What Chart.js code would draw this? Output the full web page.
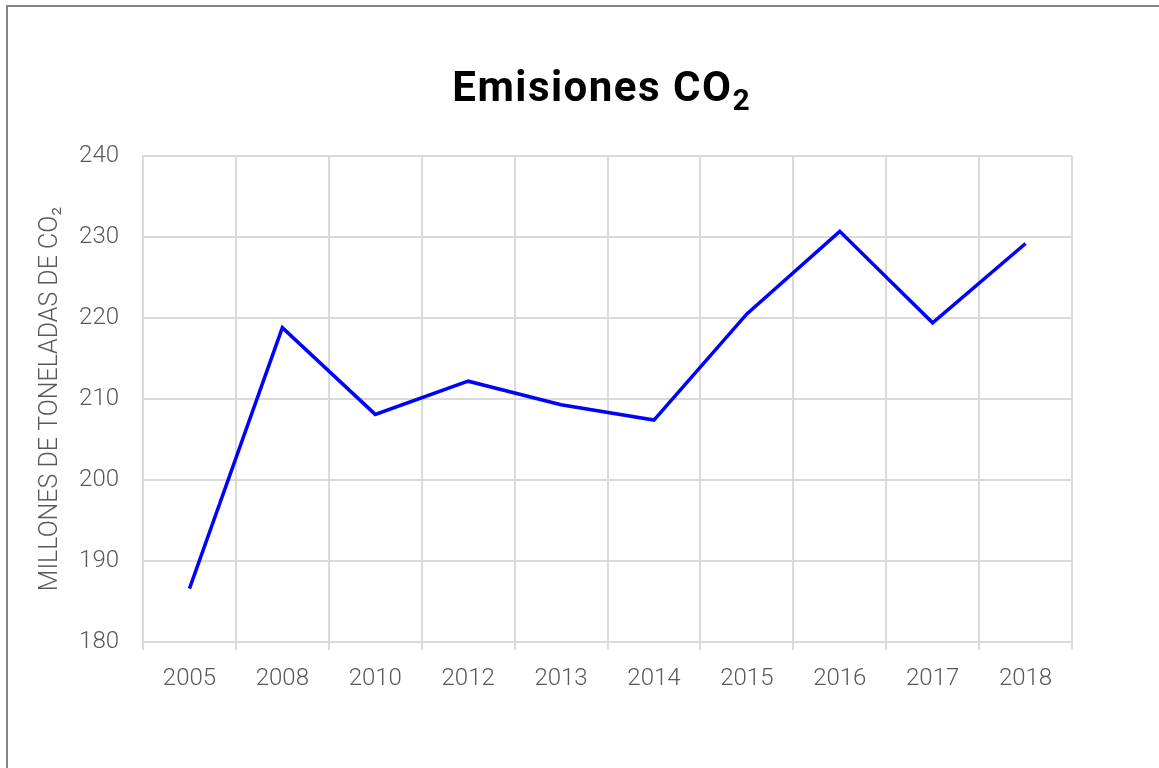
<!DOCTYPE html>
<html>
<head>
<meta charset="utf-8">
<script src="https://cdn.jsdelivr.net/npm/chart.js@4/dist/chart.umd.min.js"></script>
<style>
  body { margin: 0; background: #fff; overflow: hidden; }
  #wrap { position: relative; width: 1159px; height: 768px; }
  #frame {
    position: absolute; left: 6px; top: 5px; width: 1300px; height: 900px;
    border: 2px solid #858585; pointer-events: none;
  }
  #title {
    position: absolute; left: 0; width: 1202px; top: 66px; text-align: center;
    font-family: Roboto, "Noto Sans", sans-serif; font-weight: bold;
    font-size: 42px; letter-spacing: 1.5px; color: #000; line-height: 1;
  }
  #title sub { font-size: 30px; vertical-align: -9px; line-height: 0; letter-spacing: 0; }
</style>
</head>
<body>
<div id="wrap">
  <canvas id="chart" width="1159" height="768"></canvas>
  <div id="title">Emisiones CO<sub>2</sub></div>
  <div id="frame"></div>
</div>
<script>
const years = ["2005", "2008", "2010", "2012", "2013", "2014", "2015", "2016", "2017", "2018"];
const emissions = [186.6, 218.8, 208.1, 212.2, 209.3, 207.4, 220.5, 230.7, 219.4, 229.2];
const yMin = 180, yMax = 240, yStep = 10;

const tickFont = { family: "Roboto, 'Noto Sans', sans-serif", size: 24, weight: 300 };
const gridColor = "#dadada";

new Chart(document.getElementById("chart").getContext("2d"), {
  type: "line",
  data: {
    labels: years,
    datasets: [{
      data: emissions,
      borderColor: "#0000ff",
      borderWidth: 3.5,
      pointRadius: 0,
      tension: 0,
      fill: false
    }]
  },
  options: {
    responsive: false,
    animation: false,
    layout: { padding: { top: 156, right: 87, left: 36, bottom: 0 } },
    plugins: { legend: { display: false }, tooltip: { enabled: false }, title: { display: false } },
    scales: {
      x: {
        offset: true,
        grid: { offset: true, color: gridColor, lineWidth: 2, tickLength: 8, drawTicks: true },
        border: { color: gridColor, width: 2 },
        ticks: { color: "#595959", font: tickFont, padding: 15, maxRotation: 0 },
        afterFit: function(scale) { scale.height = 126; }
      },
      y: {
        min: yMin,
        max: yMax,
        ticks: { stepSize: yStep, color: "#595959", font: tickFont, padding: 24 },
        grid: { color: gridColor, lineWidth: 2, drawTicks: false },
        border: { color: gridColor, width: 2 },
        title: {
          display: true,
          text: "MILLONES DE TONELADAS DE CO₂",
          color: "#595959",
          font: { family: "Roboto, 'Noto Sans', sans-serif", size: 25, weight: 300 },
          padding: 0
        },
        afterFit: function(scale) { scale.width = 107; }
      }
    }
  }
});
</script>
</body>
</html>
